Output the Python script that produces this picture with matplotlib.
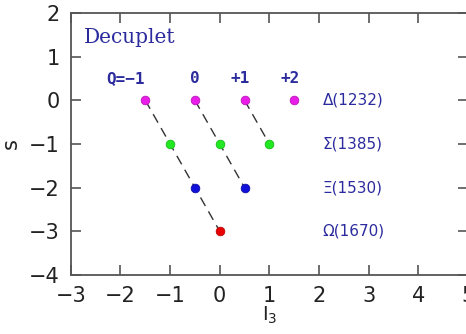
import numpy as np
import matplotlib
matplotlib.use('Agg')
import matplotlib.pyplot as plt

# baryon decuplet: isospin projection I3 and strangeness s
delta_i3 = [-1.5, -0.5, 0.5, 1.5]
delta_s = [0, 0, 0, 0]
sigma_i3 = [-1.0, 0.0, 1.0]
sigma_s = [-1, -1, -1]
xi_i3 = [-0.5, 0.5]
xi_s = [-2, -2]
omega_i3 = [0.0]
omega_s = [-3]

# lines of constant charge
charge_lines = [([-1.5, 0.0], [0, -3]),
                ([-0.5, 0.5], [0, -2]),
                ([0.5, 1.0], [0, -1])]
charge_labels = ['Q=\u22121', '0', '+1', '+2']
charge_label_x = [-1.9, -0.5, 0.42, 1.42]

multiplets = ['\u0394(1232)', '\u03a3(1385)', '\u039e(1530)', '\u03a9(1670)']
multiplet_s = [0, -1, -2, -3]

txt = '#2b2b9e'
axc = '#555555'

fig = plt.figure(figsize=(4.66, 3.34), dpi=100)
ax = fig.add_axes([0.152, 0.177, 0.852, 0.784])

for xs, ys in charge_lines:
    ax.plot(xs, ys, color='#333333', lw=1.0, ls=(0, (7, 4.5)), zorder=1)

ms = 6.3
ax.plot(delta_i3, delta_s, 'o', color='#e81ee8', ms=ms, mec='#b010b0', mew=0.5, zorder=2)
ax.plot(sigma_i3, sigma_s, 'o', color='#22e822', ms=ms, mec='#10b010', mew=0.5, zorder=2)
ax.plot(xi_i3, xi_s, 'o', color='#1010d8', ms=ms, mec='#0808a0', mew=0.5, zorder=2)
ax.plot(omega_i3, omega_s, 'o', color='#e80000', ms=ms, mec='#b00000', mew=0.5, zorder=2)

for lab, x in zip(charge_labels, charge_label_x):
    ax.text(x, 0.5, lab, color=txt, fontsize=11.5, family='DejaVu Sans Mono',
            weight='bold', ha='center', va='center')

for lab, y in zip(multiplets, multiplet_s):
    ax.text(2.07, y, lab, color=txt, fontsize=11, ha='left', va='center')

ax.text(-2.73, 1.43, 'Decuplet', color=txt, fontsize=14.5, family='DejaVu Serif',
        ha='left', va='center')

ax.set_xlim(-3, 5)
ax.set_ylim(-4, 2)
ax.set_xticks(np.arange(-3, 6))
ax.set_yticks(np.arange(-4, 3))
ax.set_xticklabels(['\u22123', '\u22122', '\u22121', '0', '1', '2', '3', '4', '5'])
ax.set_yticklabels(['\u22124', '\u22123', '\u22122', '\u22121', '0', '1', '2'])
ax.tick_params(direction='in', length=7, width=1.2, color=axc, labelsize=15,
               top=True, right=True, pad=8, labelcolor='#222222')
for sp in ax.spines.values():
    sp.set_color(axc)
    sp.set_linewidth(1.3)

ax.set_xlabel('I$_3$', fontsize=14, labelpad=-1, color='#222222')
ax.set_ylabel('s', fontsize=15, labelpad=6, color='#222222')

plt.savefig('out.png', dpi=100)
